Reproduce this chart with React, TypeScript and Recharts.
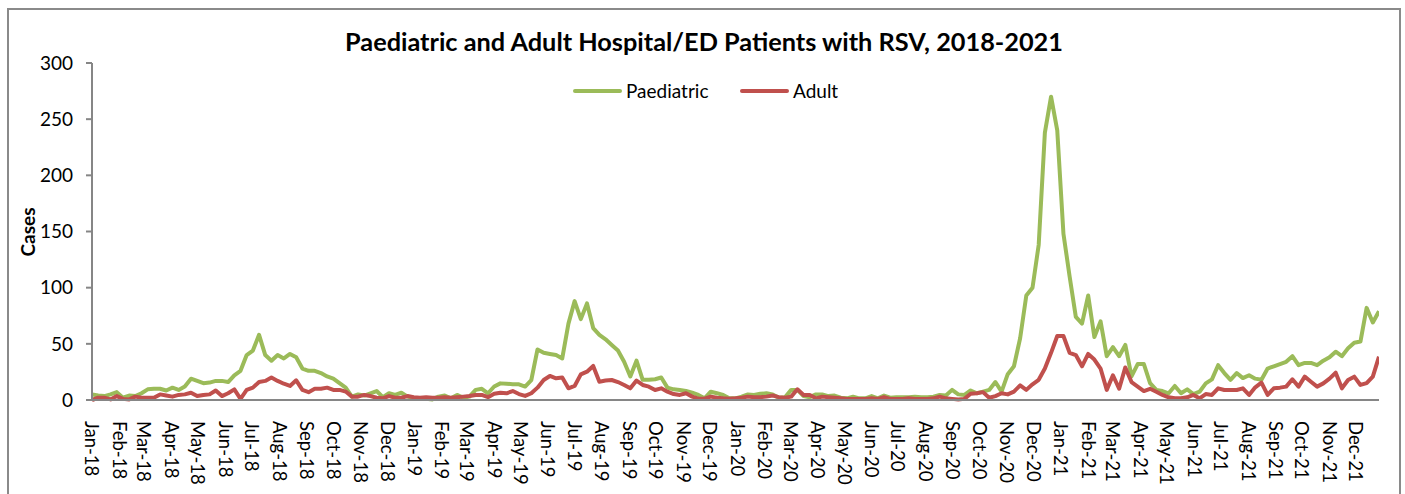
import React from 'react';
import { LineChart, Line, XAxis, YAxis, Legend } from 'recharts';

// Weekly case counts, first week of Jan 2018 to last week of Dec 2021
const paediatric: number[] = [
  5, 4, 3.5, 5, 7, 2, 4, 3.5, 6, 9.5,
  10, 10, 8.5, 11, 9, 12, 19, 17, 15, 15.5,
  17, 17, 16, 22, 26, 40, 44, 58, 40, 35,
  40, 37, 41, 38, 28, 26, 26, 24, 21, 19,
  15, 11, 3, 5, 4, 6, 8, 2.5, 6, 4.5,
  6.5, 3, 1.5, 1.5, 1, 0.5, 3, 4, 1.5, 4.5,
  2, 3, 9, 10, 6, 12, 14.8, 14.5, 14, 14,
  12, 17.8, 45, 42, 41, 40, 37, 68, 88, 72,
  86, 64, 58, 54, 49, 44, 34, 21, 35, 18,
  18, 18.5, 20, 11, 9.5, 8.9, 8, 6.5, 4.5, 1.5,
  7.4, 6, 4.5, 1.5, 1.5, 3, 5, 4.5, 5.5, 6,
  5, 2, 2.5, 9, 9, 3.5, 2.5, 5, 5, 3.5,
  4, 2, 1.5, 3, 1.5, 1.5, 3.5, 1.5, 4, 2,
  2.5, 2.5, 2.5, 3, 2.5, 2.5, 3, 4.5, 4, 9,
  5, 4.5, 8.5, 6, 7.5, 9, 16, 7.5, 23, 30,
  55, 93, 100, 138, 238, 270, 240, 148, 110, 74,
  68, 93, 56, 70, 39, 47, 39, 49, 21, 32,
  32, 15,
  9, 8, 6, 12.5, 6, 9.5, 5.3, 7.4, 14.8, 18.4,
  31, 24, 18, 24, 19.5, 22, 19, 18, 28, 30,
  32, 34, 39, 31, 33, 33, 31, 35, 38, 43,
  39, 46, 51, 52, 82, 69, 79,
];

const adult: number[] = [
  0, 2, 2, 0.5, 3.5, 1, 0.5, 3, 2, 2,
  2, 5, 4, 3, 4.5, 5, 6.5, 3.5, 4.5, 5,
  8.5, 3.5, 6, 9.5, 1, 9, 11, 16, 17, 20,
  17, 14.5, 12.5, 17.5, 9, 7, 10, 10, 11, 9,
  9, 7.5, 3, 3, 4.5, 3.5, 2, 1.5, 3.5, 2,
  2, 3.5, 2.5, 2, 2.5, 2, 2, 2.5, 2, 2.5,
  3, 3.5, 4.5, 4.5, 2.5, 5.5, 6.5, 6, 8, 5.3,
  3.6, 6, 11, 17.8, 21.4, 19.3, 20, 10.4, 12.5, 22.8,
  25.2, 30.3, 16.3, 17.3, 17.8, 16, 13.4, 10.4, 17.3, 13.4,
  11.9, 8.9, 10.4, 7.4, 5.3, 4.5, 6, 3, 1.2, 1.2,
  3, 2, 1.5, 1.2, 1.5, 2, 3, 2.5, 2.5, 3,
  4, 2.5, 2, 3, 9.5, 4.5, 4.5, 1.5, 3, 2.5,
  2, 1.5, 1, 1, 1, 1, 1.5, 1, 2.5, 1,
  1, 1, 1.5, 1, 1, 1, 1.5, 3, 1.5, 1,
  0.5, 1, 5.5, 6, 7, 2, 3.5, 6, 5, 7.5,
  13, 9, 14, 18, 28, 42, 57, 57, 42, 40,
  30, 41, 36, 28, 9, 22, 10, 29, 16, 12,
  8, 10,
  7.4, 4.5, 2.4, 1.5, 1.5, 2.4, 4.5, 1.5, 5.3, 4.5,
  10.4, 8.9, 8.9, 8.9, 10.4, 4.5, 11.3, 15.4, 4.5, 10.4,
  11, 11.9, 18.4, 11.9, 20.8, 16.3, 11.9, 14.8, 19, 24.3,
  10.4, 17.8, 20.8, 13.4, 15, 20.8, 38.6,
];

const monthNames = ['Jan', 'Feb', 'Mar', 'Apr', 'May', 'Jun', 'Jul', 'Aug', 'Sep', 'Oct', 'Nov', 'Dec'];
const years = [2018, 2019, 2020, 2021];
const yTicks = [0, 50, 100, 150, 200, 250, 300];

const START = Date.UTC(2018, 0, 1);
const DAY_MS = 86400000;

const data = paediatric.map((p, i) => ({ day: i * 7, Paediatric: p, Adult: adult[i] }));

const monthTicks: number[] = [];
const monthLabel: Record<number, string> = {};
years.forEach((y) =>
  monthNames.forEach((m, mi) => {
    const d = Math.round((Date.UTC(y, mi, 1) - START) / DAY_MS);
    monthTicks.push(d);
    monthLabel[d] = `${m}-${String(y).slice(2)}`;
  })
);

const FONT = 'Lato, "Open Sans", sans-serif';
const GREEN = '#9BBB59';
const RED = '#C0504D';
const AXIS = '#868686';

const XTick = (props: any) => {
  const { x, y, payload } = props;
  const yy = y + 21;
  return (
    <text
      x={x}
      y={yy}
      transform={`rotate(90, ${x}, ${yy})`}
      textAnchor="start"
      dy="0.36em"
      fontSize={18.5}
      fontFamily={FONT}
      fill="#000"
    >
      {monthLabel[payload.value]}
    </text>
  );
};

const LegendContent = () => (
  <div style={{ position: 'relative', height: 24, fontFamily: FONT, fontSize: 19, color: '#000' }}>
    <div style={{ position: 'absolute', left: 565, top: 10, width: 49, height: 4, background: GREEN, borderRadius: 2 }} />
    <div style={{ position: 'absolute', left: 618, top: 0, lineHeight: '24px', whiteSpace: 'nowrap' }}>Paediatric</div>
    <div style={{ position: 'absolute', left: 732, top: 10, width: 49, height: 4, background: RED, borderRadius: 2 }} />
    <div style={{ position: 'absolute', left: 785, top: 0, lineHeight: '24px', whiteSpace: 'nowrap' }}>Adult</div>
  </div>
);

export default function App() {
  return (
    <div
      style={{
        position: 'fixed',
        left: 0,
        top: 0,
        width: 1405,
        height: 494,
        overflow: 'hidden',
        background: '#fff',
        fontFamily: FONT,
      }}
    >
      <div
        style={{
          position: 'absolute',
          left: 7,
          top: 8,
          width: 1394,
          height: 600,
          border: '2px solid #8a8a8a',
          boxSizing: 'border-box',
        }}
      />
      <div
        style={{
          position: 'absolute',
          left: 0,
          top: 29,
          width: 1408,
          textAlign: 'center',
          fontSize: 25.3,
          lineHeight: '25.3px',
          fontWeight: 700,
          color: '#000',
          whiteSpace: 'nowrap',
        }}
      >
        Paediatric and Adult Hospital/ED Patients with RSV, 2018-2021
      </div>
      <div
        style={{
          position: 'absolute',
          left: 28,
          top: 232,
          transform: 'translate(-50%, -50%) rotate(-90deg)',
          fontSize: 19,
          fontWeight: 700,
          color: '#000',
          whiteSpace: 'nowrap',
          lineHeight: '20px',
        }}
      >
        Cases
      </div>
      <div style={{ position: 'absolute', left: 8, top: 8 }}>
        <LineChart width={1390} height={486} data={data} margin={{ top: 31, right: 19, bottom: 0, left: 0 }}>
          <XAxis
            dataKey="day"
            type="number"
            domain={[0, 1456]}
            ticks={monthTicks}
            interval={0}
            tick={<XTick />}
            tickLine={false}
            tickSize={0}
            tickMargin={0}
            height={94}
            axisLine={{ stroke: AXIS, strokeWidth: 2 }}
            allowDataOverflow
          />
          <YAxis
            type="number"
            domain={[0, 300]}
            ticks={yTicks}
            width={84}
            interval={0}
            tickSize={6}
            tickMargin={13}
            tickLine={{ stroke: AXIS, strokeWidth: 2 }}
            axisLine={{ stroke: AXIS, strokeWidth: 2 }}
            tick={{ fontSize: 19, fontFamily: FONT, fill: '#000' }}
          />
          <Legend
            verticalAlign="top"
            content={<LegendContent />}
            wrapperStyle={{ position: 'absolute', top: 71, left: 0, width: 1390, height: 24 }}
          />
          <Line
            type="linear"
            dataKey="Paediatric"
            stroke={GREEN}
            strokeWidth={4}
            dot={false}
            activeDot={false}
            isAnimationActive={false}
            strokeLinejoin="round"
          />
          <Line
            type="linear"
            dataKey="Adult"
            stroke={RED}
            strokeWidth={4}
            dot={false}
            activeDot={false}
            isAnimationActive={false}
            strokeLinejoin="round"
          />
        </LineChart>
      </div>
    </div>
  );
}
